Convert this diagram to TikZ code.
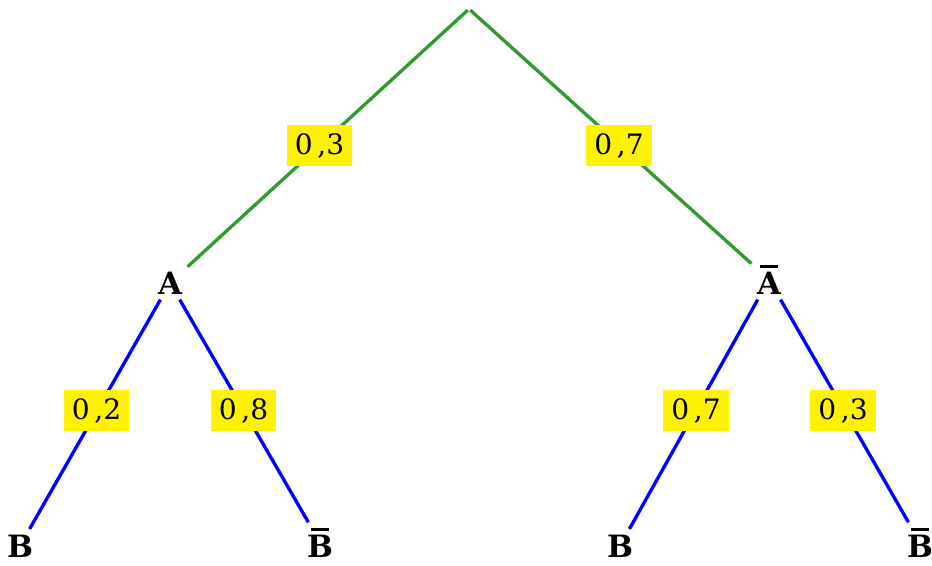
\documentclass[tikz,border=0pt]{standalone}
\usepackage{fontspec}
\setmainfont{DejaVu Serif}
\usepackage{tikz}

\definecolor{treegreen}{RGB}{51,153,51}
\newcommand\eventbar[1]{\setbox0\hbox{#1}\vbox{\offinterlineskip\hbox to\wd0{\hss\vrule width .72\wd0 height 1.6pt\hss}\kern 2.2pt\box0}}
\tikzset{
  event/.style={font=\fontsize{17.5}{20}\selectfont\bfseries, inner sep=3pt, anchor=base},
  prob/.style={fill=yellow, text=black, font=\fontsize{16}{19}\selectfont, inner sep=4.6pt},
  firstbranch/.style={treegreen, line width=1.9pt},
  secondbranch/.style={blue, line width=1.9pt}
}

\begin{document}
\begin{tikzpicture}[x=0.02cm, y=-0.02cm]
  \useasboundingbox (0,0) rectangle (932,565);

  % Nodes
  \node[inner sep=0pt] (root) at (469,9) {};
  \node[event] (A) at (170,294) {A};
  \node[event] (Abar) at (769,294) {\eventbar{A}};
  \node[event] (AB) at (20,557) {B};
  \node[event] (ABbar) at (320,557) {\eventbar{B}};
  \node[event] (AbarB) at (620,557) {B};
  \node[event] (AbarBbar) at (920,557) {\eventbar{B}};

  % letter centres, for placing the probabilities
  \coordinate (cA) at (170,282);
  \coordinate (cAbar) at (769,282);
  \coordinate (cAB) at (20,545);
  \coordinate (cABbar) at (320,545);
  \coordinate (cAbarB) at (620,545);
  \coordinate (cAbarBbar) at (920,545);

  % First stage
  \draw[firstbranch] (root) -- (A);
  \draw[firstbranch] (root) -- (Abar);
  \path (root.center) -- node[prob] {0\,,3} (cA);
  \path (root.center) -- node[prob] {0\,,7} (cAbar);

  % Second stage
  \draw[secondbranch] (A) -- (AB);
  \draw[secondbranch] (A) -- (ABbar);
  \draw[secondbranch] (Abar) -- (AbarB);
  \draw[secondbranch] (Abar) -- (AbarBbar);
  \path (cA) -- node[prob, pos=0.49] {0\,,2} (cAB);
  \path (cA) -- node[prob, pos=0.49] {0\,,8} (cABbar);
  \path (cAbar) -- node[prob, pos=0.49] {0\,,7} (cAbarB);
  \path (cAbar) -- node[prob, pos=0.49] {0\,,3} (cAbarBbar);
\end{tikzpicture}
\end{document}
